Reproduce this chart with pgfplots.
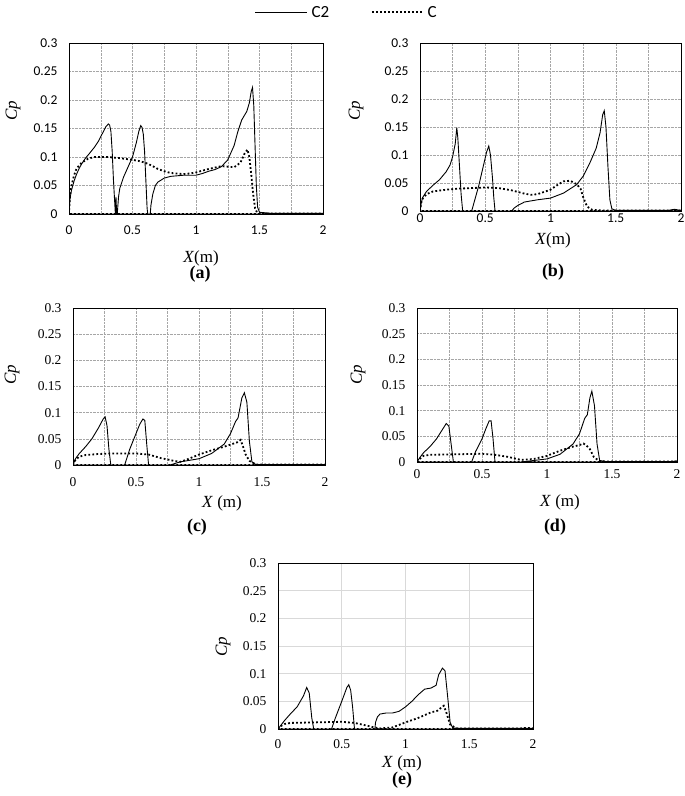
\documentclass[border=0pt]{standalone}
\usepackage{fontspec}
\setmainfont{Liberation Serif}
\newfontfamily\carlito{Carlito}
\usepackage{pgfplots}
\pgfplotsset{compat=1.18}
\pgfplotsset{
  panel/.style={scale only axis, xmin=0,xmax=2,ymin=0,ymax=0.3,
    xtick={0,0.5,1,1.5,2}, xticklabels={0,0.5,1,1.5,2},
    ytick={0,0.05,0.1,0.15,0.2,0.25,0.3},
    yticklabels={0,0.05,0.1,0.15,0.2,0.25,0.3},
    major tick length=0pt, minor tick length=0pt,
    axis line style={line width=0.8pt},
    /pgf/number format/assume math mode=true,
    yticklabel style={xshift=-8pt}},
  dotgrid/.style={minor xtick={0.25,0.75,1.25,1.75}, grid=both,
    major grid style={gray!70, densely dotted, line width=0.5pt},
    minor grid style={gray!70, densely dotted, line width=0.5pt}},
  sansticks/.style={tick label style={font=\carlito\fontsize{13.5}{13.5}\selectfont}},
  serifticks/.style={tick label style={font=\fontsize{13.5}{13.5}\selectfont}},
  ctwo/.style={black, line width=0.9pt},
  cone/.style={black, line width=1.8pt, dash pattern=on 1.8pt off 2.2pt},
}
\begin{document}
\begin{tikzpicture}[x=1pt,y=1pt]
\useasboundingbox (0,0) rectangle (685,796);
% legend
\draw[black, line width=0.9pt] (255,784) -- (307,784);
\node[anchor=west, font=\carlito\fontsize{17}{17}\selectfont] at (308,784) {C2};
\draw[black, line width=1.8pt, dash pattern=on 1.8pt off 2.2pt] (372,784) -- (422,784);
\node[anchor=west, font=\carlito\fontsize{17}{17}\selectfont] at (424,784) {C};

% (a)
\begin{axis}[panel, dotgrid, sansticks, at={(69pt,582pt)}, anchor=south west,
  width=254pt, height=171pt, xticklabel style={yshift=-8pt}]
\addplot[ctwo] table {
0 0
0.005 0.02
0.01 0.03
0.02 0.042
0.04 0.058
0.06 0.07
0.08 0.08
0.1 0.088
0.13 0.098
0.16 0.106
0.2 0.117
0.23 0.127
0.26 0.14
0.29 0.153
0.31 0.158
0.32 0.156
0.33 0.145
0.34 0.11
0.35 0.06
0.36 0.02
0.365 0.0
0.37 0.03
0.375 0
0.38 0
0.39 0.03
0.4 0.045
0.43 0.065
0.46 0.08
0.5 0.1
0.53 0.125
0.55 0.145
0.565 0.155
0.575 0.152
0.585 0.14
0.595 0.11
0.605 0.06
0.615 0.01
0.62 0
0.64 0
0.645 0.015
0.66 0.035
0.68 0.05
0.7 0.056
0.75 0.063
0.8 0.066
0.9 0.068
1.0 0.068
1.05 0.071
1.1 0.075
1.15 0.078
1.2 0.083
1.25 0.095
1.3 0.12
1.33 0.145
1.36 0.165
1.4 0.18
1.42 0.195
1.435 0.215
1.445 0.222
1.455 0.19
1.465 0.12
1.475 0.05
1.485 0.012
1.5 0.003
1.6 0.001
2 0.001
2 0
0 0
};
\addplot[cone] table {
0 0
0.005 0.02
0.01 0.035
0.02 0.05
0.04 0.068
0.06 0.08
0.1 0.09
0.15 0.097
0.2 0.1
0.3 0.1
0.4 0.098
0.5 0.095
0.55 0.093
0.6 0.09
0.65 0.085
0.7 0.079
0.75 0.075
0.8 0.072
0.9 0.07
0.95 0.071
1.0 0.073
1.1 0.079
1.2 0.084
1.3 0.082
1.35 0.09
1.38 0.105
1.405 0.113
1.42 0.1
1.435 0.07
1.45 0.035
1.465 0.01
1.48 0.003
1.5 0.001
2 0.001
2 0
0 0
};
\end{axis}

% (b)
\begin{axis}[panel, dotgrid, sansticks, at={(420pt,585pt)}, anchor=south west,
  width=261pt, height=168pt, xticklabel style={yshift=1pt}]
\addplot[ctwo] table {
0 0
0.01 0.015
0.02 0.024
0.05 0.035
0.1 0.046
0.15 0.056
0.2 0.07
0.23 0.082
0.25 0.097
0.27 0.12
0.282 0.149
0.29 0.13
0.3 0.09
0.315 0.03
0.327 0
0.396 0
0.42 0.02
0.45 0.045
0.48 0.075
0.51 0.105
0.527 0.116
0.54 0.1
0.555 0.06
0.565 0.025
0.575 0
0.703 0
0.72 0.005
0.75 0.01
0.8 0.016
0.9 0.02
1.0 0.023
1.1 0.032
1.2 0.047
1.25 0.062
1.3 0.085
1.35 0.112
1.38 0.14
1.4 0.172
1.412 0.179
1.425 0.15
1.44 0.08
1.455 0.02
1.47 0.004
1.5 0.001
1.9 0.001
1.95 0.003
2 0.001
2 0
0 0
};
\addplot[cone] table {
0 0
0.01 0.015
0.02 0.022
0.05 0.03
0.1 0.035
0.2 0.038
0.3 0.04
0.4 0.041
0.5 0.042
0.6 0.041
0.7 0.037
0.8 0.031
0.85 0.029
0.9 0.03
1.0 0.038
1.05 0.046
1.1 0.053
1.15 0.054
1.2 0.048
1.23 0.04
1.25 0.025
1.28 0.008
1.32 0.002
1.4 0.001
2 0.001
2 0
0 0
};
\end{axis}

% (c)
\begin{axis}[panel, dotgrid, serifticks, at={(73pt,331pt)}, anchor=south west,
  width=252pt, height=157pt, xticklabel style={yshift=-9pt}]
\addplot[ctwo] table {
0 0
0.01 0.006
0.02 0.012
0.05 0.022
0.1 0.035
0.15 0.05
0.2 0.07
0.24 0.088
0.255 0.092
0.27 0.075
0.285 0.03
0.3 0
0.41 0
0.45 0.03
0.5 0.06
0.53 0.078
0.555 0.088
0.57 0.085
0.585 0.04
0.6 0
0.77 0
0.85 0.006
0.95 0.01
1.0 0.012
1.1 0.022
1.2 0.04
1.25 0.06
1.29 0.083
1.31 0.09
1.34 0.128
1.36 0.138
1.38 0.12
1.4 0.045
1.42 0.006
1.45 0.001
2 0.001
2 0
0 0
};
\addplot[cone] table {
0 0
0.01 0.006
0.02 0.01
0.05 0.016
0.1 0.019
0.2 0.021
0.3 0.022
0.4 0.022
0.5 0.022
0.6 0.02
0.7 0.013
0.8 0.008
0.85 0.006
0.9 0.01
1.0 0.02
1.1 0.028
1.2 0.035
1.3 0.043
1.33 0.048
1.35 0.035
1.37 0.02
1.4 0.008
1.45 0.001
2 0.001
2 0
0 0
};
\end{axis}

% (d)
\begin{axis}[panel, dotgrid, serifticks, at={(417pt,334pt)}, anchor=south west,
  width=260pt, height=154pt, xticklabel style={yshift=-4pt}]
\addplot[ctwo] table {
0 0
0.01 0.004
0.02 0.008
0.05 0.018
0.1 0.03
0.15 0.045
0.2 0.065
0.225 0.075
0.245 0.07
0.265 0.03
0.28 0
0.42 0
0.45 0.02
0.5 0.045
0.53 0.065
0.555 0.08
0.57 0.08
0.585 0.045
0.6 0
0.8 0
0.9 0.003
1.0 0.006
1.1 0.015
1.2 0.035
1.25 0.055
1.29 0.085
1.31 0.092
1.33 0.125
1.345 0.138
1.365 0.11
1.385 0.035
1.405 0.003
1.45 0.001
1.95 0.001
2 0.002
2 0
0 0
};
\addplot[cone] table {
0 0
0.01 0.003
0.02 0.006
0.05 0.012
0.1 0.014
0.3 0.015
0.5 0.016
0.6 0.014
0.7 0.01
0.8 0.004
0.9 0.006
1.0 0.012
1.1 0.022
1.2 0.03
1.25 0.033
1.28 0.036
1.3 0.033
1.33 0.025
1.36 0.01
1.4 0.002
1.45 0.001
2 0.001
2 0
0 0
};
\end{axis}

% (e)
\begin{axis}[panel, serifticks, at={(278pt,67pt)}, anchor=south west,
  width=255pt, height=166pt, xticklabel style={yshift=-7pt},
  grid=major, major grid style={gray!30, line width=0.8pt}]
\addplot[ctwo] table {
0 0
0.01 0.003
0.02 0.006
0.05 0.015
0.1 0.028
0.15 0.04
0.2 0.06
0.225 0.075
0.245 0.065
0.265 0.02
0.28 0
0.42 0
0.45 0.02
0.5 0.05
0.54 0.075
0.555 0.08
0.57 0.07
0.585 0.04
0.6 0
0.76 0
0.765 0.012
0.78 0.022
0.8 0.027
0.85 0.029
0.9 0.029
0.95 0.032
1.0 0.04
1.05 0.05
1.1 0.062
1.15 0.072
1.2 0.074
1.24 0.079
1.26 0.098
1.29 0.11
1.31 0.105
1.33 0.06
1.35 0.012
1.37 0.002
1.45 0.001
2 0.001
2 0
0 0
};
\addplot[cone] table {
0 0
0.01 0.003
0.02 0.005
0.05 0.009
0.1 0.011
0.3 0.012
0.5 0.013
0.6 0.011
0.7 0.006
0.75 0.003
0.8 0.001
0.9 0.003
1.0 0.012
1.1 0.02
1.2 0.03
1.25 0.033
1.3 0.042
1.32 0.03
1.35 0.008
1.4 0.001
1.9 0.001
1.95 0.002
2 0.001
2 0
0 0
};
\end{axis}

% axis labels
\begin{scope}[every node/.style={font=\fontsize{17}{17}\selectfont}]
\node[rotate=90] at (13,685) {\textit{Cp}};
\node[rotate=90] at (356,685) {\textit{Cp}};
\node[rotate=90] at (12,421) {\textit{Cp}};
\node[rotate=90] at (358,421) {\textit{Cp}};
\node[rotate=90] at (223,149) {\textit{Cp}};
\node at (201,538) {\textit{X}(m)};
\node at (553,556) {\textit{X}(m)};
\node at (222,293) {\textit{X} (m)};
\node at (560,294) {\textit{X} (m)};
\node at (402,33) {\textit{X} (m)};
\end{scope}
\begin{scope}[every node/.style={font=\bfseries\fontsize{18}{18}\selectfont}]
\node at (200,522) {(a)};
\node at (553,524) {(b)};
\node at (197,269) {(c)};
\node at (555,269) {(d)};
\node at (402,16) {(e)};
\end{scope}
\end{tikzpicture}
\end{document}
